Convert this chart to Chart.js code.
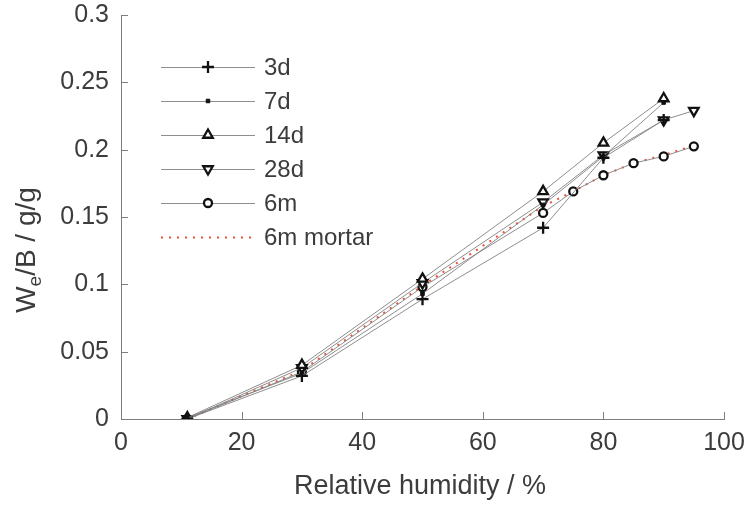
<!DOCTYPE html>
<html>
<head>
<meta charset="utf-8">
<script src="https://cdn.jsdelivr.net/npm/chart.js"></script>
<style>
  html, body { margin: 0; padding: 0; background: #fff; }
  #wrap { width: 744px; height: 506px; }
</style>
</head>
<body>
<div id="wrap"><canvas id="mycanvas"></canvas></div>
<script>
// relative humidity (%) for each series
var rh3d  = [11, 30, 50, 70, 80, 90];
var rh7d  = [11, 30, 50, 70, 80, 90];
var rh14d = [11, 30, 50, 70, 80, 90];
var rh28d = [11, 30, 50, 70, 80, 90, 95];
var rh6m  = [11, 30, 50, 70, 75, 80, 85, 90, 95];

// We/B in g/g
var we3d     = [0.000, 0.032, 0.089, 0.142, 0.194, 0.222];
var we7d     = [0.001, 0.034, 0.093, 0.159, 0.195, 0.235];
var we14d    = [0.001, 0.040, 0.104, 0.169, 0.205, 0.238];
var we28d    = [0.000, 0.038, 0.101, 0.161, 0.196, 0.222, 0.229];
var we6m     = [0.000, 0.035, 0.098, 0.153, 0.169, 0.181, 0.190, 0.195, 0.2025];
var weMortar = [0.000, 0.036, 0.099, 0.158, 0.169, 0.181, 0.190, 0.196, 0.203];

var labels = ["3d", "7d", "14d", "28d", "6m", "6m mortar"];
var xTicks = [0, 20, 40, 60, 80, 100];
var yTicks = [0, 0.05, 0.1, 0.15, 0.2, 0.25, 0.3];

var FONT = "'Liberation Sans', Arial, sans-serif";
var TXT = "#3c3c3c";
var AXIS = "#7d7d7d";
var LINE = "rgba(130,130,130,0.9)";

function pts(xs, ys) {
  var out = [];
  for (var i in xs) out.push({x: xs[i], y: ys[i]});
  return out;
}

function series(label, xs, ys, style) {
  var d = {
    label: label,
    data: pts(xs, ys),
    borderColor: LINE,
    borderWidth: 1,
    fill: false,
    lineTension: 0,
    pointBorderColor: "#111",
    pointBackgroundColor: "#fff",
    pointBorderWidth: 2.3,
    pointHoverRadius: 0
  };
  for (var k in style) d[k] = style[k];
  return d;
}

var datasets = [
  series(labels[0], rh3d, we3d, {pointStyle: "cross", pointRadius: 6}),
  series(labels[1], rh7d, we7d, {pointStyle: "rect", pointRadius: 2.5, pointBackgroundColor: "#111", pointBorderWidth: 1}),
  series(labels[2], rh14d, we14d, {pointStyle: "triangle", pointRadius: 5.5}),
  series(labels[3], rh28d, we28d, {pointStyle: "triangle", pointRadius: 5.5, pointRotation: 180}),
  series(labels[4], rh6m, we6m, {pointStyle: "circle", pointRadius: 4}),
  series(labels[5], rh6m, weMortar, {borderColor: "rgb(238,80,56)", borderWidth: 2, borderDash: [2, 6], pointRadius: 0})
];

// ticks pointing into the plot, like the original figure
var inwardTicks = {
  id: "inwardTicks",
  afterDraw: function(chart) {
    var ctx = chart.ctx, a = chart.chartArea;
    var xs = chart.scales.x, ys = chart.scales.y;
    ctx.save();
    ctx.strokeStyle = AXIS;
    ctx.lineWidth = 1;
    ctx.beginPath();
    xTicks.forEach(function(v) {
      var p = Math.round(xs.getPixelForValue(v)) + 0.5;
      ctx.moveTo(p, a.bottom);
      ctx.lineTo(p, a.bottom - 7);
    });
    yTicks.forEach(function(v) {
      var p = Math.round(ys.getPixelForValue(v)) + 0.5;
      ctx.moveTo(a.left, p);
      ctx.lineTo(a.left + 7, p);
    });
    ctx.stroke();
    ctx.restore();
  }
};

// legend: line with marker in the middle, then the label
var lineLegend = {
  id: "lineLegend",
  afterDraw: function(chart) {
    var ctx = chart.ctx;
    ctx.save();
    chart.data.datasets.forEach(function(ds, i) {
      var y = 67 + i * 34;
      ctx.save();
      ctx.strokeStyle = ds.borderColor;
      ctx.lineWidth = ds.borderWidth;
      ctx.setLineDash(ds.borderDash || []);
      ctx.beginPath();
      ctx.moveTo(161, y + 0.5);
      ctx.lineTo(255, y + 0.5);
      ctx.stroke();
      ctx.restore();
      if (ds.pointRadius > 0) {
        ctx.save();
        ctx.strokeStyle = ds.pointBorderColor;
        ctx.fillStyle = ds.pointBackgroundColor;
        ctx.lineWidth = ds.pointBorderWidth;
        Chart.helpers.drawPoint(ctx, {
          pointStyle: ds.pointStyle,
          radius: ds.pointRadius,
          rotation: ds.pointRotation || 0,
          borderWidth: ds.pointBorderWidth
        }, 208, y);
        ctx.restore();
      }
      ctx.fillStyle = TXT;
      ctx.font = "24px " + FONT;
      ctx.textBaseline = "middle";
      ctx.textAlign = "left";
      ctx.fillText(ds.label, 264, y + 1);
    });
    ctx.restore();
  }
};

// axis titles (y one has a subscript e)
var axisTitles = {
  id: "axisTitles",
  afterDraw: function(chart) {
    var ctx = chart.ctx;
    ctx.save();
    ctx.fillStyle = TXT;
    ctx.font = "27px " + FONT;
    ctx.textAlign = "center";
    ctx.textBaseline = "middle";
    ctx.fillText("Relative humidity / %", 420, 487);
    ctx.restore();

    ctx.save();
    ctx.translate(27, 250);
    ctx.rotate(-Math.PI / 2);
    ctx.fillStyle = TXT;
    ctx.textBaseline = "middle";
    ctx.textAlign = "left";
    var big = "28px " + FONT, small = "19px " + FONT;
    ctx.font = big;
    var w1 = ctx.measureText("W").width;
    var w3 = ctx.measureText("/B / g/g").width;
    ctx.font = small;
    var w2 = ctx.measureText("e").width;
    var x = -(w1 + w2 + w3) / 2;
    ctx.font = big;
    ctx.fillText("W", x, 0);
    ctx.font = small;
    ctx.fillText("e", x + w1, 9);
    ctx.font = big;
    ctx.fillText("/B / g/g", x + w1 + w2, 0);
    ctx.restore();
  }
};

var ctx = document.getElementById("mycanvas");
var chart = new Chart(ctx, {
  type: "line",
  data: {datasets: datasets},
  options: {
    responsive: true,
    maintainAspectRatio: false,
    animation: false,
    layout: {padding: {top: 15, right: 20, left: 0, bottom: 0}},
    plugins: {legend: {display: false}, tooltip: {enabled: false}},
    scales: {
      x: {
        type: "linear",
        min: 0, max: 100,
        afterBuildTicks: function(s) { s.ticks = xTicks.map(function(v) { return {value: v}; }); },
        afterFit: function(s) { s.height = 87; s.paddingLeft = 0; s.paddingRight = 0; },
        grid: {display: true, drawOnChartArea: false, drawTicks: false},
        border: {display: true, color: AXIS, width: 1},
        ticks: {color: TXT, font: {size: 25, family: FONT}, padding: 9, maxRotation: 0}
      },
      y: {
        type: "linear",
        min: 0, max: 0.3,
        afterBuildTicks: function(s) { s.ticks = yTicks.map(function(v) { return {value: v}; }); },
        afterFit: function(s) { s.width = 121; s.paddingTop = 0; s.paddingBottom = 0; },
        grid: {display: true, drawOnChartArea: false, drawTicks: false},
        border: {display: true, color: AXIS, width: 1},
        ticks: {color: TXT, font: {size: 25, family: FONT}, padding: 12,
          callback: function(v) { return String(+v.toFixed(2)); }}
      }
    }
  },
  plugins: [inwardTicks, lineLegend, axisTitles]
});
</script>
</body>
</html>
